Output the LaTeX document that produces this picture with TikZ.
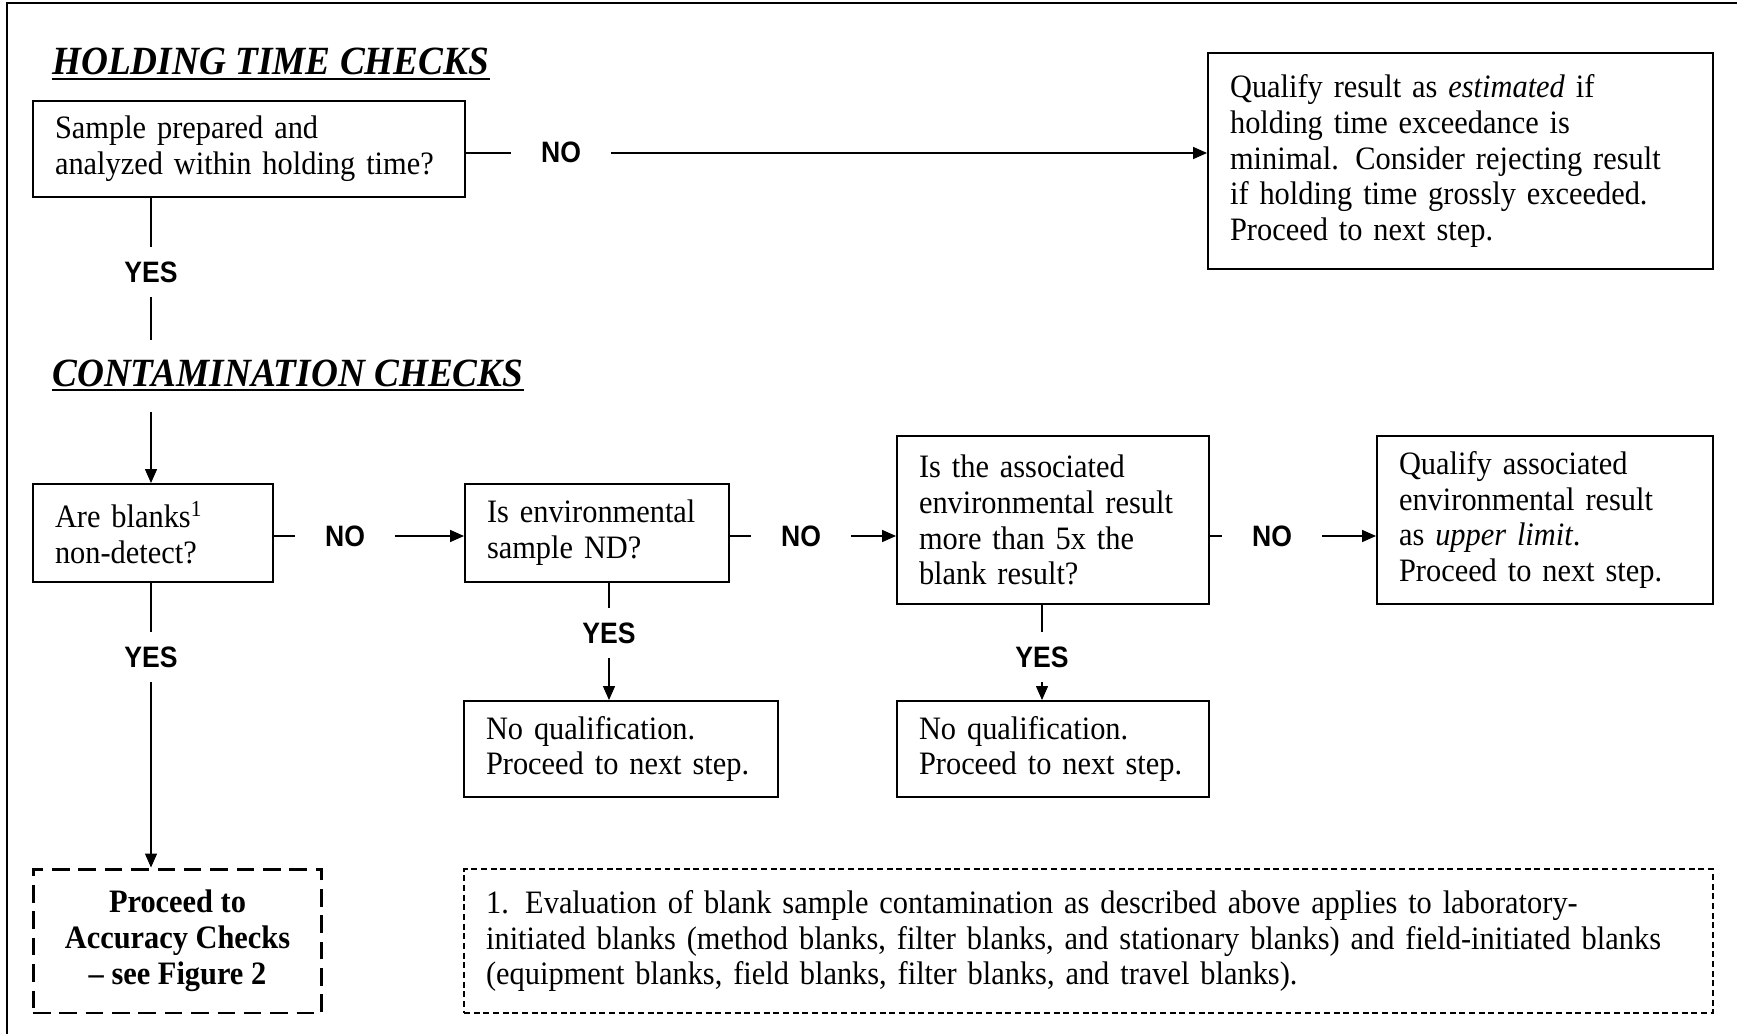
\documentclass[tikz,border=0pt]{standalone}
\usepackage{fontspec}
\setmainfont[FakeStretch=0.93]{Liberation Serif}
\newfontfamily\lblfont[FakeStretch=0.9]{Liberation Sans}
\usetikzlibrary{arrows.meta}

\begin{document}
\begin{tikzpicture}[x=0.02cm,y=-0.02cm,
	box/.style={draw, line width=1.1pt, align=left, inner xsep=0.44cm, font=\fontsize{18.6}{20.4}\selectfont},
	lbl/.style={inner xsep=0.6cm, inner ysep=0.3cm, text height=0.4cm, text depth=0pt, font=\lblfont\bfseries\fontsize{16.8}{16.8}\selectfont},
	head/.style={anchor=base west, inner sep=0pt, font=\bfseries\itshape\fontsize{22.8}{24}\selectfont},
	pile/.style={line width=0.75pt, -{Triangle[length=0.28cm, width=0.24cm]}},
	link/.style={line width=0.75pt}]

	\useasboundingbox (0,0) rectangle (1737,1034);
	\draw[line width=1.1pt] (7,1034) -- (7,3) -- (1737,3);

	% Headings
	\node[head] (t1) at (52,75) {HOLDING TIME CHECKS};
	\node[head] (t2) at (52,386) {CONTAMINATION CHECKS};
	\draw[line width=1.6pt] ([yshift=-0.08cm]t1.base west) -- ([yshift=-0.08cm]t1.base east);
	\draw[line width=1.6pt] ([yshift=-0.08cm]t2.base west) -- ([yshift=-0.08cm]t2.base east);

	% Holding time
	\node[box, text width=7.76cm, minimum height=1.92cm] (q1) at (249,149) {\mbox{Sample prepared and}\\\mbox{analyzed within holding time?}};
	\node[lbl] (no1) at (561,153) {NO};
	\node[box, text width=9.22cm, minimum height=4.32cm] (res1) at (1460.5,161) {\mbox{Qualify result as \textit{estimated} if}\\\mbox{holding time exceedance is}\\\mbox{minimal.  Consider rejecting result}\\\mbox{if holding time grossly exceeded.}\\\mbox{Proceed to next step.}};
	\node[lbl] (yes1) at (151,272) {YES};
	\coordinate (c1) at (151,340);
	\coordinate (c2) at (151,412);

	% Contamination
	\node[box, text width=3.92cm, minimum height=1.96cm] (q2) at (153,533) {\mbox{Are blanks\textsuperscript{1}}\\\mbox{non-detect?}};
	\node[lbl] (no2) at (345,536) {NO};
	\node[box, text width=4.4cm, minimum height=1.96cm] (q3) at (597,533) {\mbox{Is environmental}\\\mbox{sample ND?}};
	\node[lbl] (no3) at (801,536) {NO};
	\node[box, text width=5.36cm, minimum height=3.36cm] (q4) at (1053,520) {\mbox{Is the associated}\\\mbox{environmental result}\\\mbox{more than 5x the}\\\mbox{blank result?}};
	\node[lbl] (no4) at (1272,536) {NO};
	\node[box, text width=5.84cm, minimum height=3.36cm] (res2) at (1545,520) {\mbox{Qualify associated}\\\mbox{environmental result}\\\mbox{as \textit{upper limit}.}\\\mbox{Proceed to next step.}};

	\node[lbl] (yes3) at (609,633) {YES};
	\node[box, text width=5.4cm, minimum height=1.92cm] (res3) at (621,749) {\mbox{No qualification.}\\\mbox{Proceed to next step.}};
	\node[lbl] (yes4) at (1042,657) {YES};
	\node[box, text width=5.36cm, minimum height=1.92cm] (res4) at (1053,749) {\mbox{No qualification.}\\\mbox{Proceed to next step.}};
	\node[lbl] (yes2) at (151,657) {YES};

	\node[box, line width=1.7pt, dash pattern=on 10pt off 5pt, align=center, minimum width=5.78cm, minimum height=2.88cm, font=\bfseries\fontsize{18.6}{20.4}\selectfont] (acc) at (177.5,941) {Proceed to\\Accuracy Checks\\– see Figure 2};
	\node[box, line width=0.85pt, dash pattern=on 3.4pt off 2.1pt, text width=24.1cm, minimum height=2.88cm] (note) at (1088.5,941) {\mbox{1. Evaluation of blank sample contamination as described above applies to laboratory-}\\\mbox{initiated blanks (method blanks, filter blanks, and stationary blanks) and field-initiated blanks}\\\mbox{(equipment blanks, field blanks, filter blanks, and travel blanks).}};

	% Draw connectors
	\draw[link] (q1.east |- no1) -- (no1);
	\draw[pile] (no1) -- (no1 -| res1.west);
	\draw[link] (yes1 |- q1.south) -- (yes1);
	\draw[link] (yes1) -- (c1);
	\draw[pile] (c2) -- (c2 |- q2.north);

	\draw[link] (q2.east |- no2) -- (no2);
	\draw[pile] (no2) -- (no2 -| q3.west);
	\draw[link] (q3.east |- no3) -- (no3);
	\draw[pile] (no3) -- (no3 -| q4.west);
	\draw[link] (q4.east |- no4) -- (no4);
	\draw[pile] (no4) -- (no4 -| res2.west);

	\draw[link] (yes2 |- q2.south) -- (yes2);
	\draw[pile] (yes2) -- (yes2 |- acc.north);
	\draw[link] (yes3 |- q3.south) -- (yes3);
	\draw[pile] (yes3) -- (yes3 |- res3.north);
	\draw[link] (yes4 |- q4.south) -- (yes4);
	\draw[pile] (yes4) -- (yes4 |- res4.north);

\end{tikzpicture}
\end{document}
